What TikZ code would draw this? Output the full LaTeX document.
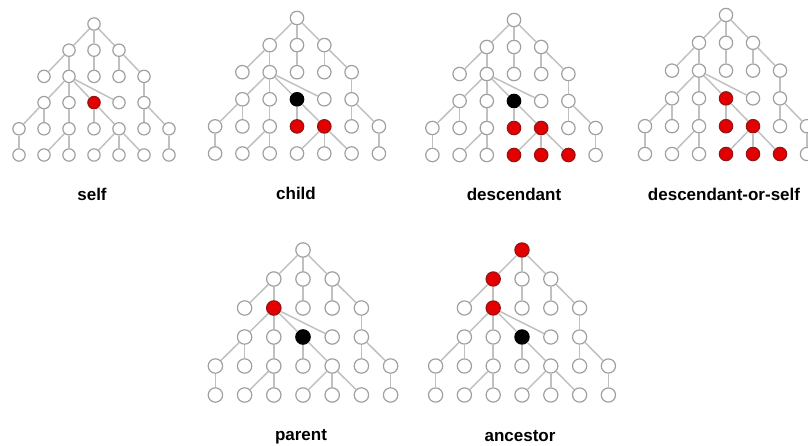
\documentclass[tikz,border=0pt]{standalone}
\usepackage{fontspec}
\setmainfont{Liberation Sans}

\definecolor{edgegray}{RGB}{192,192,192}
\definecolor{ringgray}{RGB}{160,160,160}
\definecolor{selred}{RGB}{228,0,0}
\definecolor{seledge}{RGB}{150,20,20}

% #1 prefix, #2/#3 root position, #4/#5 spacing, #6 marked nodes
\newcommand{\xtree}[6]{%
  \begin{scope}[shift={(#2,#3)}, x=#4*0.75pt, y=-#5*0.75pt, #6]
    \foreach \r/\lo/\hi in {0/4/4,1/3/5,2/2/6,3/2/6,4/1/7,5/1/7}
      \foreach \c in {\lo,...,\hi}
        \node (#1\r\c) [vertex, minimum size=#4*0.37pt, hl\r\c/.try]
          at (\c-4,\r) {};
    \foreach \p/\q in {04/13,04/14,04/15,13/22,13/23,14/24,15/25,15/26,
        23/32,23/33,23/34,23/35,26/36,32/41,32/42,33/43,34/44,34/45,
        36/46,36/47,41/51,43/52,43/53,45/54,45/55,45/56,47/57}
      \draw[link] (#1\p) -- (#1\q);
  \end{scope}}

\begin{document}
\begin{tikzpicture}[x=0.75pt, y=-0.75pt]
    \tikzstyle{vertex} = [circle, draw=ringgray, fill=white, line width=0.9pt,
        inner sep=0pt]
    \tikzstyle{selnode} = [draw=seledge, fill=selred]
    \tikzstyle{ctxnode} = [draw=black, fill=black]
    \tikzstyle{link} = [draw=edgegray, line width=1.1pt]
    \tikzstyle{caption} = [anchor=base,
        font=\bfseries\fontsize{12.75}{15}\selectfont]

    \useasboundingbox (0,0) rectangle (808,446);
    %\draw[step=50,gray,very thin] (0,0) grid (808,446);

    \xtree{s}{94}{24}{25}{26.2}{hl34/.style=selnode}
    \xtree{c}{297}{18}{27.3}{27.1}{hl34/.style=ctxnode,
        hl44/.style=selnode, hl45/.style=selnode}
    \xtree{d}{514}{20}{27.2}{27}{hl34/.style=ctxnode,
        hl44/.style=selnode, hl45/.style=selnode, hl54/.style=selnode,
        hl55/.style=selnode, hl56/.style=selnode}
    \xtree{o}{726}{15}{27}{27.8}{hl34/.style=selnode,
        hl44/.style=selnode, hl45/.style=selnode, hl54/.style=selnode,
        hl55/.style=selnode, hl56/.style=selnode}
    \xtree{p}{303}{250}{29.2}{29}{hl23/.style=selnode, hl34/.style=ctxnode}
    \xtree{a}{522}{250}{28.8}{29}{hl04/.style=selnode,
        hl13/.style=selnode, hl23/.style=selnode, hl34/.style=ctxnode}

    \node(lself) [caption] at (92,200) {self};
    \node(lchild) [caption] at (296,199) {child};
    \node(ldesc) [caption] at (514,200) {descendant};
    \node(ldos) [caption] at (724,200) {descendant-or-self};
    \node(lparent) [caption] at (301,440) {parent};
    \node(lanc) [caption] at (520,441) {ancestor};
\end{tikzpicture}
\end{document}
